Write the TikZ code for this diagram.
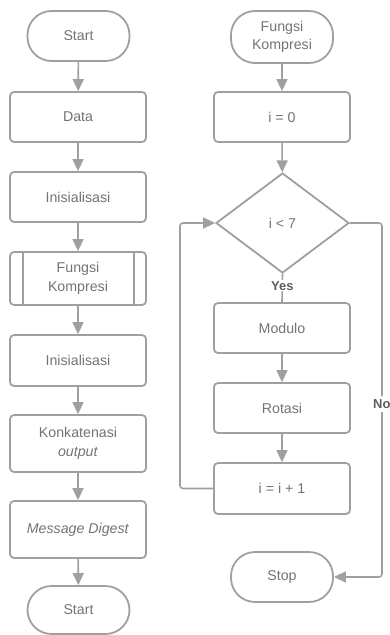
\documentclass[tikz,border=0pt]{standalone}
\usepackage{fontspec}
\setmainfont{Liberation Sans}
\usetikzlibrary{shapes.geometric,arrows.meta}
\definecolor{ln}{RGB}{160,160,160}
\definecolor{tx}{RGB}{115,115,115}
\definecolor{lb}{RGB}{95,95,95}
\tikzset{
  box/.style={draw=ln,line width=1.8pt,rounded corners=4pt,minimum width=136pt,minimum height=50pt,inner sep=0pt,text=tx,font=\fontsize{14.2}{18.5}\selectfont,align=center},
  term/.style={draw=ln,line width=1.8pt,rounded corners=24pt,minimum width=102pt,minimum height=50pt,inner sep=0pt,text=tx,font=\fontsize{14.2}{18.5}\selectfont,align=center},
  dec/.style={draw=ln,line width=1.8pt,shape=diamond,minimum width=133pt,minimum height=100pt,inner sep=0pt,text=tx,font=\fontsize{14.2}{18.5}\selectfont,align=center},
  arr/.style={draw=ln,line width=1.6pt,-{Triangle[length=12pt,width=11pt]}},
  con/.style={draw=ln,line width=1.6pt,rounded corners=3pt},
  lab/.style={text=lb,font=\bfseries\fontsize{13}{16}\selectfont,fill=white,inner sep=1pt}
}
\begin{document}
\begin{tikzpicture}[x=1pt,y=-1pt]
\useasboundingbox (0,0) rectangle (390,635);
% left column
\node[term] (s1) at (78.5,36) {Start};
\node[box] (data) at (78,117) {Data};
\node[box] (ini1) at (78,197) {Inisialisasi};
\node[box,minimum height=53pt] (fk) at (78,278.5) {Fungsi\\Kompresi};
\draw[ln,line width=1.8pt] ([xshift=14pt]fk.north west) -- ([xshift=14pt]fk.south west);
\draw[ln,line width=1.8pt] ([xshift=-13pt]fk.north east) -- ([xshift=-13pt]fk.south east);
\node[box,minimum height=51pt] (ini2) at (78,360.5) {Inisialisasi};
\node[box,minimum height=57pt] (konk) at (78,443.5) {Konkatenasi\\\textit{output}};
\node[box,minimum height=57pt] (md) at (78,529.5) {\textit{Message Digest}};
\node[term,minimum height=48pt] (s2) at (78.5,610) {Start};
\draw[arr] (s1) -- (data);
\draw[arr] (data) -- (ini1);
\draw[arr] (ini1) -- (fk);
\draw[arr] (fk) -- (ini2);
\draw[arr] (ini2) -- (konk);
\draw[arr] (konk) -- (md);
\draw[arr] (md) -- (s2);
% right column
\node[term,minimum height=52pt] (fkt) at (282,37) {Fungsi\\Kompresi};
\node[box] (i0) at (282,117) {i = 0};
\node[dec] (dia) at (282.5,223) {i < 7};
\node[box] (mod) at (282,328) {Modulo};
\node[box] (rot) at (282,408) {Rotasi};
\node[box,minimum height=51pt] (inc) at (282,488.5) {i = i + 1};
\node[term] (stop) at (282,577) {Stop};
\draw[arr] (fkt) -- (i0);
\draw[arr] (i0) -- (dia);
\draw[con] (dia.south) -- node[lab,pos=0.42] {Yes} (mod.north);
\draw[arr] (mod) -- (rot);
\draw[arr] (rot) -- (inc);
\coordinate (lx1) at (180,488.5);
\coordinate (lx2) at (180,223);
\draw[arr,rounded corners=3pt] (inc.west) -- (lx1) -- (lx2) -- (dia.west);
\coordinate (rx1) at (382,223);
\coordinate (rx2) at (382,577);
\coordinate (rm1) at (382,396);
\coordinate (rm2) at (382,412);
\draw[con] (dia.east) -- (rx1) -- (rm1);
\node[lab,anchor=west] (no) at (372,404) {No};
\draw[arr,rounded corners=3pt] (rm2) -- (rx2) -- (stop.east);
\end{tikzpicture}
\end{document}
